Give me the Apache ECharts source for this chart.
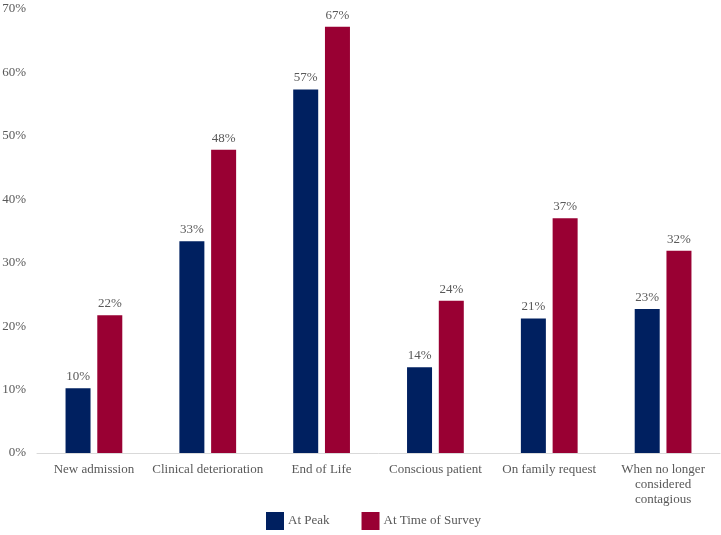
<!DOCTYPE html>
<html>
<head>
<meta charset="utf-8">
<script src="https://cdn.jsdelivr.net/npm/echarts@6/dist/echarts.min.js"></script>
<style>html,body{margin:0;padding:0;background:#fff;}#c{width:721px;height:535px;}</style>
</head>
<body>
<div id="c"></div>
<script>
var categories = ['New admission', 'Clinical deterioration', 'End of Life', 'Conscious patient', 'On family request', 'When no longer\nconsidered\ncontagious'];
var atPeak = [10.2, 33.4, 57.3, 13.5, 21.2, 22.7];
var atSurvey = [21.7, 47.8, 67.2, 24.0, 37.0, 31.9];
var seriesNames = ['At Peak', 'At Time of Survey'];
var yTicks = {min: 0, max: 70, interval: 10};

var font = '"Liberation Serif", "Times New Roman", serif';
var txt = '#595959';
var chart = echarts.init(document.getElementById('c'), null, {renderer: 'canvas'});
var labelCfg = {
  show: true, position: 'top', distance: 5,
  color: txt, fontFamily: font, fontSize: 13,
  formatter: function (p) { return Math.round(p.value) + '%'; }
};
chart.setOption({
  animation: false,
  backgroundColor: '#fff',
  grid: {left: 37, right: 1, top: 9, bottom: 82, containLabel: false, outerBoundsMode: 'none'},
  legend: {
    data: seriesNames, left: 261, bottom: 0,
    itemWidth: 18, itemHeight: 18, itemGap: 32, icon: 'rect',
    textStyle: {color: txt, fontFamily: font, fontSize: 13, padding: [0, 0, 0, -1]}
  },
  xAxis: {
    type: 'category', data: categories,
    axisLine: {show: true, lineStyle: {color: '#d9d9d9', width: 1}},
    axisTick: {show: false},
    axisLabel: {color: txt, fontFamily: font, fontSize: 13, margin: 9, lineHeight: 15, interval: 0}
  },
  yAxis: {
    type: 'value', min: yTicks.min, max: yTicks.max, interval: yTicks.interval,
    axisLine: {show: false}, axisTick: {show: false}, splitLine: {show: false},
    axisLabel: {color: txt, fontFamily: font, fontSize: 13, margin: 11, formatter: '{value}%'}
  },
  series: [
    {name: seriesNames[0], type: 'bar', data: atPeak, barWidth: 25, barGap: '27%',
     itemStyle: {color: '#002060'}, label: labelCfg},
    {name: seriesNames[1], type: 'bar', data: atSurvey, barWidth: 25, barGap: '27%',
     itemStyle: {color: '#990033'}, label: labelCfg}
  ]
});
</script>
</body>
</html>
